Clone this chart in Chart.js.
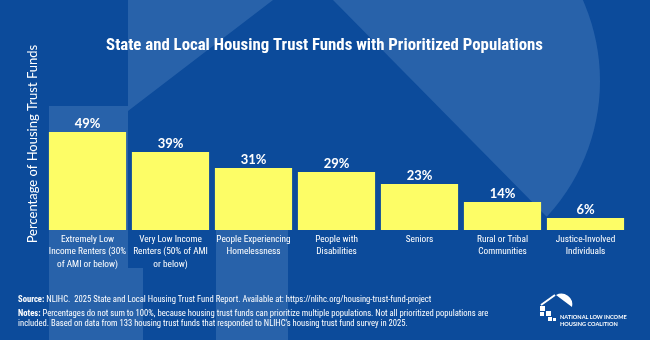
<!DOCTYPE html>
<html>
<head>
<meta charset="utf-8">
<script src="https://cdn.jsdelivr.net/npm/chart.js@4.4.1/dist/chart.umd.min.js"></script>
<style>
  html, body { margin: 0; padding: 0; background: #0c4b9b; }
  #wrap { position: relative; width: 650px; height: 340px; overflow: hidden; }
  #chart { position: absolute; left: 0; top: 0; }
  .foot {
    position: absolute; left: 18px; color: #fff; white-space: nowrap;
    font-family: "Roboto Condensed", sans-serif;
    font-size: 8.6px; line-height: 10px;
  }
  #logo { position: absolute; left: 535px; top: 290px; }
  #logoText {
    position: absolute; left: 560px; top: 314px; color: #fff; white-space: nowrap;
    font-family: Lato, sans-serif; font-weight: bold; font-size: 5.6px; line-height: 6.5px;
  }
</style>
</head>
<body>
<div id="wrap">
  <canvas id="chart" width="650" height="340"></canvas>
  <div class="foot" style="top:294px"><b>Source:</b> NLIHC.&nbsp; 2025 State and Local Housing Trust Fund Report. Available at: https://nlihc.org/housing-trust-fund-project</div>
  <div class="foot" style="top:308px"><b>Notes:</b> Percentages do not sum to 100%, because housing trust funds can prioritize multiple populations. Not all prioritized populations are<br>included. Based on data from 133 housing trust funds that responded to NLIHC's housing trust fund survey in 2025.</div>
  <svg id="logo" width="40" height="34" viewBox="0 0 40 34">
    <path d="M6,15 L20,5" stroke="#fff" stroke-width="2" fill="none"/>
    <path d="M21,5 A11,11 0 0 1 37,17 Z" fill="#fff"/>
    <rect x="5" y="16" width="5" height="5" fill="#fff"/>
    <rect x="5" y="22" width="4" height="4" fill="#fff"/>
    <rect x="11" y="21" width="5" height="5" fill="#fff"/>
    <rect x="13" y="27" width="4" height="4" fill="#fff"/>
    <rect x="18" y="28" width="3" height="3" fill="#fff"/>
  </svg>
  <div id="logoText">NATIONAL LOW INCOME<br>HOUSING COALITION</div>
</div>
<script>
const TITLE = "State and Local Housing Trust Funds with Prioritized Populations";
const Y_TITLE = "Percentage of Housing Trust Funds";

const categories = [
  ["Extremely Low", "Income Renters (30%", "of AMI or below)"],
  ["Very Low Income", "Renters (50% of AMI", "or below)"],
  ["People Experiencing", "Homelessness"],
  ["People with", "Disabilities"],
  ["Seniors"],
  ["Rural or Tribal", "Communities"],
  ["Justice-Involved", "Individuals"],
];
const shares = [49, 39, 31, 29, 23, 14, 6];

const BG = "#0c4b9b";
const BG_LIGHT = "#2862aa";
const BAR = "#fdfd66";
const NARROW = '"Roboto Condensed", sans-serif';

// big faded house drawn behind the chart
const backdrop = {
  id: "backdrop",
  beforeDraw(chart) {
    const { ctx, width, height } = chart;
    ctx.save();
    ctx.fillStyle = BG;
    ctx.fillRect(0, 0, width, height);
    ctx.fillStyle = BG_LIGHT;

    // roof slope + left wall
    ctx.beginPath();
    ctx.moveTo(128, 0);
    ctx.lineTo(273, 0);
    ctx.lineTo(128, 111);
    ctx.lineTo(128, 268);
    ctx.lineTo(143, 268);
    ctx.lineTo(143, height);
    ctx.lineTo(49, height);
    ctx.lineTo(49, 106);
    ctx.lineTo(128, 106);
    ctx.closePath();
    ctx.fill();

    // second wall strip
    ctx.fillRect(216, 200, 72, height - 200);

    // round shape right of the roof
    ctx.save();
    ctx.beginPath();
    ctx.moveTo(333, 0);
    ctx.lineTo(900, 0);
    ctx.lineTo(900, 575);
    ctx.closePath();
    ctx.clip();
    ctx.beginPath();
    ctx.arc(400, 81, 200, 0, Math.PI * 2);
    ctx.fill();
    ctx.restore();

    ctx.restore();
  },
};

const valueLabels = {
  id: "valueLabels",
  afterDatasetsDraw(chart) {
    const { ctx } = chart;
    const meta = chart.getDatasetMeta(0);
    ctx.save();
    ctx.fillStyle = "#fff";
    ctx.font = "bold 13px Lato";
    ctx.textAlign = "center";
    ctx.textBaseline = "alphabetic";
    meta.data.forEach((bar, i) => {
      ctx.fillText(shares[i] + "%", bar.x, bar.y - 4);
    });
    ctx.restore();
  },
};

new Chart(document.getElementById("chart"), {
  type: "bar",
  data: {
    labels: categories,
    datasets: [
      {
        data: shares,
        backgroundColor: BAR,
        borderWidth: 0,
        barPercentage: 0.93,
        categoryPercentage: 1,
      },
    ],
  },
  options: {
    responsive: false,
    animation: false,
    layout: { padding: { left: 22, right: 23, top: 0, bottom: 0 } },
    plugins: {
      legend: { display: false },
      tooltip: { enabled: false },
      title: {
        display: true,
        text: TITLE,
        color: "#fff",
        font: { family: NARROW, size: 16.8, weight: "bold", lineHeight: 1.2 },
        padding: { top: 36, bottom: 2 },
      },
    },
    scales: {
      x: {
        grid: { display: false, drawTicks: false },
        border: { display: false },
        ticks: {
          color: "#fff",
          font: { family: NARROW, size: 9.3, lineHeight: 1.3 },
          padding: 4,
          maxRotation: 0,
          autoSkip: false,
        },
        afterFit(scale) { scale.height = 110; },
      },
      y: {
        min: 0,
        max: 86,
        grid: { display: false, drawTicks: false },
        border: { display: false },
        ticks: { display: false },
        title: {
          display: true,
          text: Y_TITLE,
          color: "#fff",
          font: { family: "Lato", size: 13 },
          padding: { top: 3, bottom: 0 },
        },
        afterFit(scale) { scale.width = 24; },
      },
    },
  },
  plugins: [backdrop, valueLabels],
});
</script>
</body>
</html>
